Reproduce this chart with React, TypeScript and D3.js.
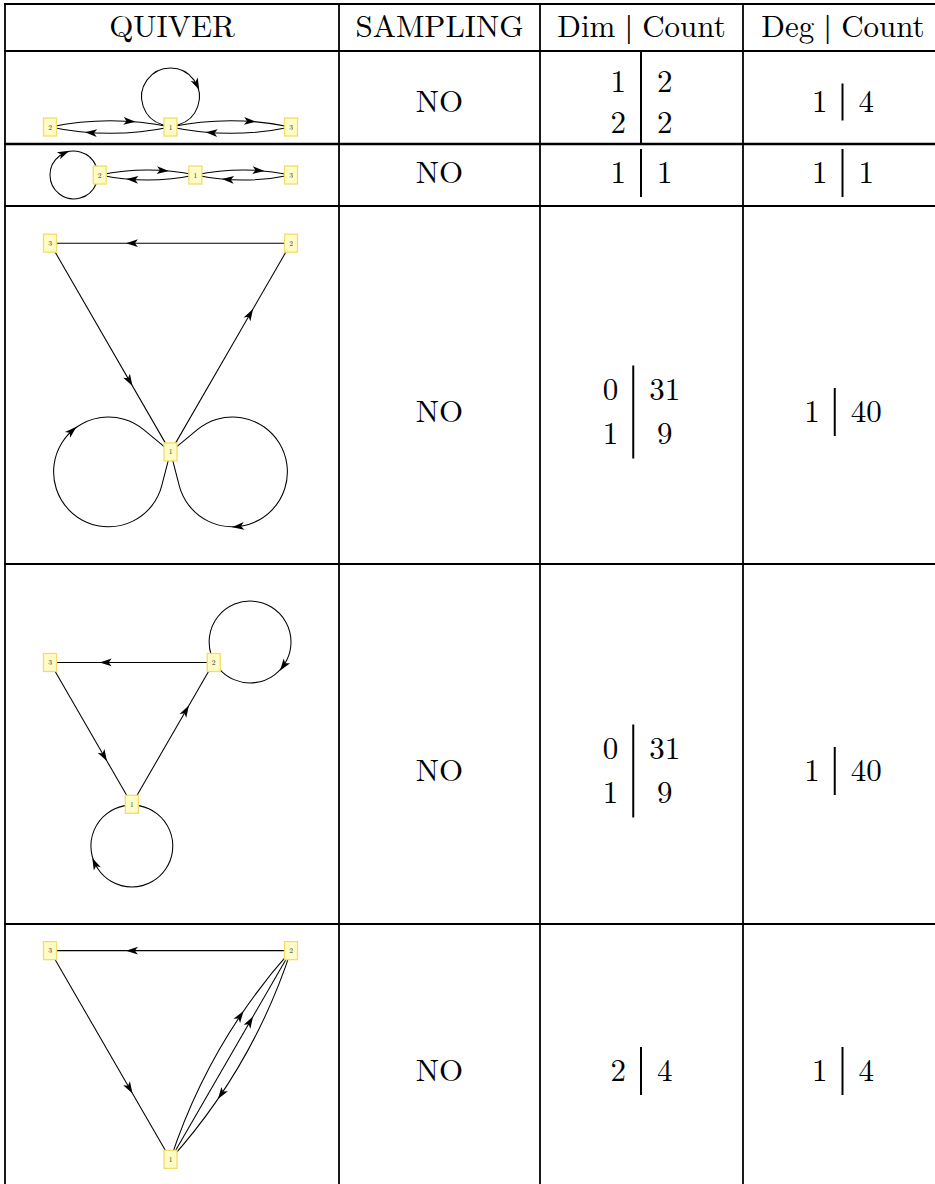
import * as d3 from "d3";
import React from "react";

// ── table content ──
const HEADERS = ["QUIVER", "SAMPLING", "Dim | Count", "Deg | Count"];
const SAMPLING = ["NO", "NO", "NO", "NO", "NO"];
const DIM_COUNT: string[][][] = [
  [["1", "2"], ["2", "2"]],
  [["1", "1"]],
  [["0", "31"], ["1", "9"]],
  [["0", "31"], ["1", "9"]],
  [["2", "4"]],
];
const DEG_COUNT: string[][][] = [
  [["1", "4"]],
  [["1", "1"]],
  [["1", "40"]],
  [["1", "40"]],
  [["1", "4"]],
];

// ── quivers: node layout in unit coords (y down) ──
const QUIVER_NODES: [string, number, number][][] = [
  [["1", 0, 0], ["2", -1, 0], ["3", 1, 0]],
  [["1", 0, 0], ["2", -1, 0], ["3", 1, 0]],
  [["1", 0.5, 0.866], ["2", 1, 0], ["3", 0, 0]],
  [["1", 0.5, 0.866], ["2", 1, 0], ["3", 0, 0]],
  [["1", 0.5, 0.866], ["2", 1, 0], ["3", 0, 0]],
];
// [from, to, bend]
const QUIVER_ARROWS: [string, string, number][][] = [
  [["2", "1", 1], ["1", "2", 1], ["1", "3", 1], ["3", "1", 1]],
  [["2", "1", 1], ["1", "2", 1], ["1", "3", 1], ["3", "1", 1]],
  [["2", "3", 0], ["3", "1", 0], ["1", "2", 0]],
  [["2", "3", 0], ["3", "1", 0], ["1", "2", 0]],
  [["2", "3", 0], ["3", "1", 0], ["1", "2", 1], ["1", "2", 0], ["2", "1", 1]],
];
// self loops: [node, centre dx, centre dy, radius]
const QUIVER_LOOPS: [string, number, number, number][][] = [
  [["1", 0, -0.25, 0.24]],
  [["2", -0.27, 0, 0.25]],
  [["1", -0.257, 0.083, 0.228], ["1", 0.257, 0.083, 0.228]],
  [["2", 0.222, -0.125, 0.25], ["1", 0, 0.255, 0.25]],
  [],
];

// ── layout ──
const W = 935;
const H = 1184;
const COL_X = [5, 339, 540, 743, 943];
const ROW_Y = [4, 51, 144, 206, 564, 924, 1186];
const TEXT_Y = [102, 173, 412, 771, 1071];
const DIM_GAP = [41, 0, 44, 44, 0];
const DEG_RULE_H = [37, 48, 48, 48, 48];
const QX = [50, 291];
const FONT = "'Latin Modern Roman', 'Liberation Serif', serif";
const BAR_FONT = "'Liberation Serif', serif";
const FS = 31;
const ARROW = "M0,0L-12,-3.9L-9,0L-12,3.9Z";

const digitW = (s: string) => s.length * FS * 0.5;

function arrowTransform(x: number, y: number, tx: number, ty: number) {
  const l = Math.hypot(tx, ty);
  const ux = tx / l, uy = ty / l;
  const deg = (Math.atan2(uy, ux) * 180) / Math.PI;
  return `translate(${x + 6 * ux},${y + 6 * uy}) rotate(${deg})`;
}

function Quiver({ idx, cy }: { idx: number; cy: number }) {
  const nodes = QUIVER_NODES[idx].map(([id, x, y]) => ({ id, x, y }));
  const byId = new Map(nodes.map((n) => [n.id, n]));
  const loops = QUIVER_LOOPS[idx].map(([id, dx, dy, r]) => {
    const n = byId.get(id)!;
    return { n, cx: n.x + dx, cy: n.y + dy, r };
  });
  const xs = [...nodes.map((n) => n.x), ...loops.flatMap((l) => [l.cx - l.r, l.cx + l.r])];
  const ys = [...nodes.map((n) => n.y), ...loops.flatMap((l) => [l.cy - l.r, l.cy + l.r])];
  const [x0, x1] = d3.extent(xs) as [number, number];
  const [y0, y1] = d3.extent(ys) as [number, number];
  const k = (QX[1] - QX[0]) / (x1 - x0);
  const h = (y1 - y0) * k;
  const sx = d3.scaleLinear().domain([x0, x1]).range(QX);
  const sy = d3.scaleLinear().domain([y0, y1]).range([cy - h / 2, cy + h / 2]);

  const edges = QUIVER_ARROWS[idx].map(([f, t, bend], i) => {
    const A = byId.get(f)!, B = byId.get(t)!;
    const ax = sx(A.x), ay = sy(A.y), bx = sx(B.x), by = sy(B.y);
    const dx = bx - ax, dy = by - ay, L = Math.hypot(dx, dy);
    const nx = dy / L, ny = -dx / L;
    const off = bend * 0.105 * L;
    const cx = (ax + bx) / 2 + nx * off, ccy = (ay + by) / 2 + ny * off;
    const p = d3.path();
    p.moveTo(ax, ay);
    if (bend) p.quadraticCurveTo(cx, ccy, bx, by);
    else p.lineTo(bx, by);
    const tt = 0.66, mt = 1 - tt;
    const px = mt * mt * ax + 2 * mt * tt * cx + tt * tt * bx;
    const py = mt * mt * ay + 2 * mt * tt * ccy + tt * tt * by;
    const tx = 2 * mt * (cx - ax) + 2 * tt * (bx - cx);
    const ty = 2 * mt * (ccy - ay) + 2 * tt * (by - ccy);
    return { key: `e${i}`, d: p.toString(), arrow: arrowTransform(px, py, tx, ty) };
  });

  const loopPaths = loops.map((l, i) => {
    const Nx = sx(l.n.x), Ny = sy(l.n.y);
    const Cx = sx(l.cx), Cy = sy(l.cy);
    const r = l.r * k;
    const d = Math.hypot(Nx - Cx, Ny - Cy);
    const al = Math.atan2(Ny - Cy, Nx - Cx);
    const be = Math.acos(Math.min(1, r / d));
    const a0 = al + be, a1 = al - be + 2 * Math.PI;
    const p = d3.path();
    p.moveTo(Nx, Ny);
    p.lineTo(Cx + r * Math.cos(a0), Cy + r * Math.sin(a0));
    p.arc(Cx, Cy, r, a0, a1, false);
    p.lineTo(Nx, Ny);
    const Lt = Math.sqrt(Math.max(0, d * d - r * r));
    const La = r * (a1 - a0);
    const s = 0.68 * (2 * Lt + La);
    let px: number, py: number, tx: number, ty: number;
    if (s <= Lt + La) {
      const ang = a0 + Math.max(0, s - Lt) / r;
      px = Cx + r * Math.cos(ang);
      py = Cy + r * Math.sin(ang);
      tx = -Math.sin(ang);
      ty = Math.cos(ang);
    } else {
      const ex = Cx + r * Math.cos(a1), ey = Cy + r * Math.sin(a1);
      const f = (s - Lt - La) / Lt;
      px = ex + (Nx - ex) * f;
      py = ey + (Ny - ey) * f;
      tx = Nx - ex;
      ty = Ny - ey;
    }
    return { key: `l${i}`, d: p.toString(), arrow: arrowTransform(px, py, tx, ty) };
  });

  const all = [...edges, ...loopPaths];
  return (
    <g>
      {all.map((e) => (
        <path key={e.key} d={e.d} fill="none" stroke="#000" strokeWidth={1.05} />
      ))}
      {all.map((e) => (
        <path key={e.key + "a"} d={ARROW} transform={e.arrow} fill="#000" />
      ))}
      {nodes.map((n) => (
        <g key={n.id} transform={`translate(${sx(n.x)},${sy(n.y)})`}>
          <rect x={-6.5} y={-9} width={13} height={18} fill="#fffcc6" stroke="#f3dc6c" strokeWidth={1.3} />
          <text textAnchor="middle" y={2.6} style={{ fontSize: "7.5px", fontFamily: FONT }} fill="#333">
            {n.id}
          </text>
        </g>
      ))}
    </g>
  );
}

const txt = (size: number): React.CSSProperties => ({
  fontFamily: FONT,
  fontSize: `${size}px`,
});

function CountCell({
  cx, cy, rows, gap, ruleTop, ruleBottom,
}: { cx: number; cy: number; rows: string[][]; gap: number; ruleTop: number; ruleBottom: number }) {
  const wL = d3.max(rows, (r) => digitW(r[0]))!;
  const wR = d3.max(rows, (r) => digitW(r[1]))!;
  const padL = 15, padR = 16;
  const bar = cx + (padL + wL - padR - wR) / 2;
  const lx = bar - padL - wL / 2;
  const rx = bar + padR + wR / 2;
  const y0 = cy - ((rows.length - 1) * gap) / 2;
  return (
    <g>
      <line x1={bar} x2={bar} y1={ruleTop} y2={ruleBottom} stroke="#000" strokeWidth={2} />
      {rows.map((r, i) => (
        <g key={i}>
          <text x={lx} y={y0 + i * gap + FS / 3} textAnchor="middle" fill="#000" style={txt(FS)}>{r[0]}</text>
          <text x={rx} y={y0 + i * gap + FS / 3} textAnchor="middle" fill="#000" style={txt(FS)}>{r[1]}</text>
        </g>
      ))}
    </g>
  );
}

// header label; the "|" glyph is taken from a font that has it in plain black
function HeaderText({ x, label }: { x: number; label: string }) {
  const parts = label.split("|");
  return (
    <text x={x} y={37} textAnchor="middle" fill="#000" style={txt(FS)}>
      {parts.map((p, i) => (
        <React.Fragment key={i}>
          {i > 0 && <tspan style={{ fontFamily: BAR_FONT }}>|</tspan>}
          <tspan>{p}</tspan>
        </React.Fragment>
      ))}
    </text>
  );
}

export default function App() {
  const colMid = (c: number) => (COL_X[c] + COL_X[c + 1]) / 2;
  return (
    <svg
      width={W}
      height={H}
      style={{ position: "absolute", left: 0, top: 0, background: "#fff" }}
    >
      {/* header */}
      {HEADERS.map((h, c) => (
        <HeaderText key={h} x={colMid(c)} label={h} />
      ))}

      {SAMPLING.map((s, i) => {
        const top = ROW_Y[i + 1], bottom = ROW_Y[i + 2];
        const ty = TEXT_Y[i];
        const dim = DIM_COUNT[i];
        const half = (48 + (dim.length - 1) * 45) / 2;
        return (
          <g key={i}>
            <Quiver idx={i} cy={(top + bottom) / 2} />
            <text x={colMid(1)} y={ty + FS / 3} textAnchor="middle" fill="#000" style={txt(FS)}>{s}</text>
            <CountCell
              cx={colMid(2)}
              cy={ty}
              rows={dim}
              gap={DIM_GAP[i]}
              ruleTop={i === 0 ? top : ty - half}
              ruleBottom={i === 0 ? bottom : ty + half}
            />
            <CountCell
              cx={colMid(3)}
              cy={ty}
              rows={DEG_COUNT[i]}
              gap={0}
              ruleTop={ty - DEG_RULE_H[i] / 2}
              ruleBottom={ty + DEG_RULE_H[i] / 2}
            />
          </g>
        );
      })}

      {/* rules */}
      {ROW_Y.map((y, i) => (
        <line key={"h" + i} x1={COL_X[0] - 1} x2={W} y1={y} y2={y} stroke="#000" strokeWidth={i === 2 ? 2.4 : 2} />
      ))}
      {COL_X.map((x, i) => (
        <line key={"v" + i} x1={x} x2={x} y1={ROW_Y[0] - 1} y2={H} stroke="#000" strokeWidth={1.8} />
      ))}
    </svg>
  );
}
